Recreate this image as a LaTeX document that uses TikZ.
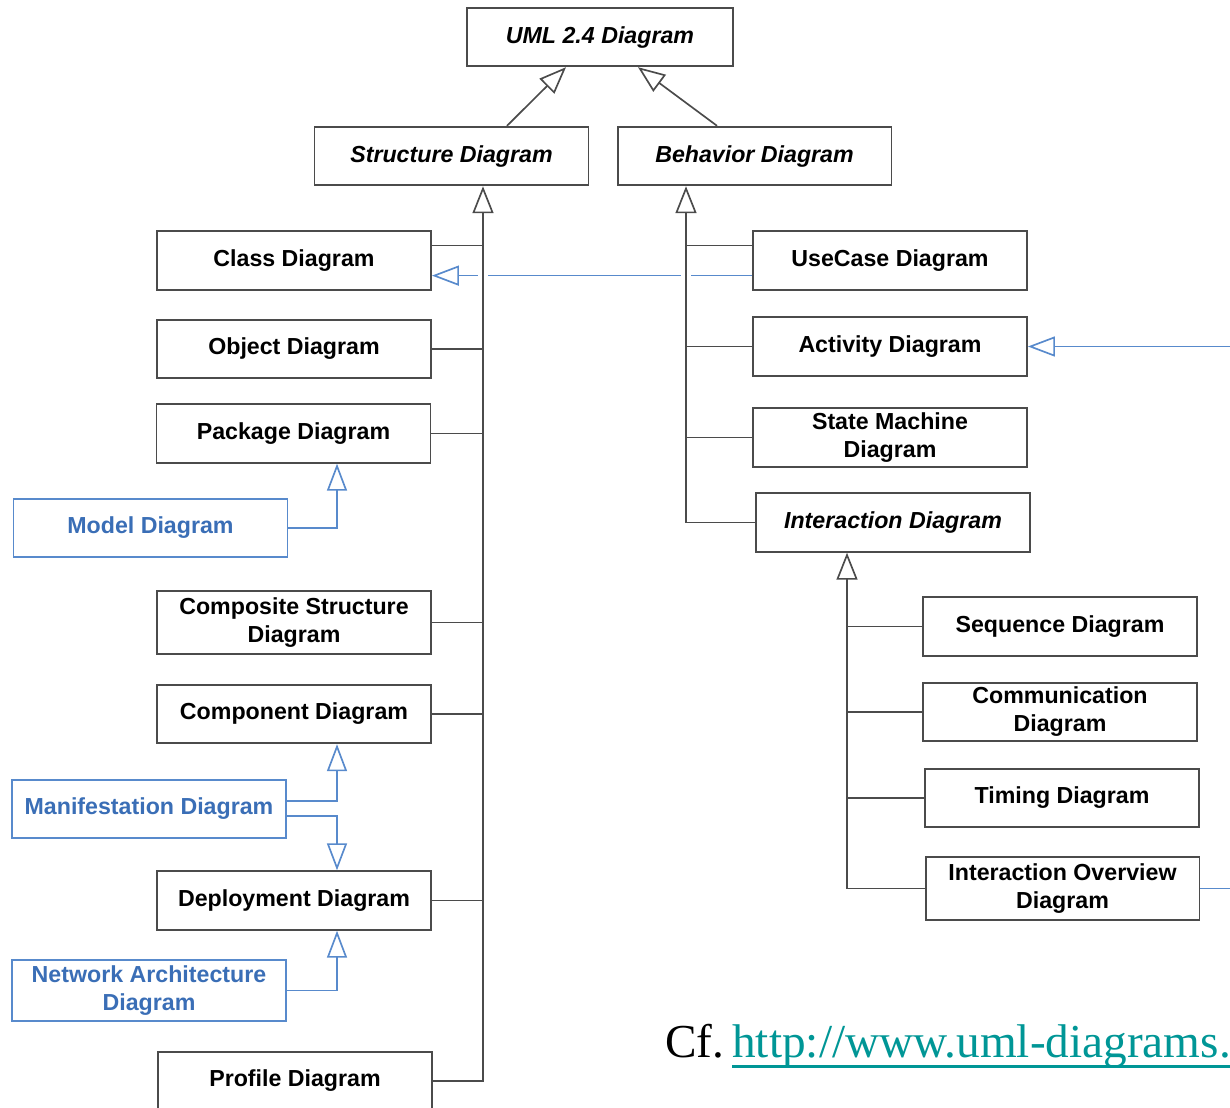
\documentclass[tikz,border=0pt]{standalone}
\usepackage{fontspec}
\setsansfont{Liberation Sans}
\newfontfamily\cffont{Liberation Serif}
\usetikzlibrary{arrows.meta,calc}
\definecolor{boxgray}{RGB}{75,75,75}
\definecolor{umlblue}{RGB}{88,138,204}
\definecolor{umltext}{RGB}{58,110,182}
\definecolor{linkteal}{RGB}{0,150,150}
\tikzset{
  box/.style={draw=boxgray,line width=1.1pt,minimum width=5.48cm,minimum height=1.17cm,
    inner sep=0pt,align=center,font=\sffamily\bfseries\fontsize{13.2}{15.9}\selectfont},
  abstract/.style={box,font=\sffamily\bfseries\itshape\fontsize{13.2}{15.9}\selectfont},
  bluebox/.style={box,draw=umlblue,text=umltext},
  tree/.style={draw=boxgray,line width=0.95pt},
  gen/.style={tree,-{Triangle[open,length=0.54cm,width=0.42cm]}},
  blueline/.style={draw=umlblue,line width=0.95pt},
  bluegen/.style={blueline,-{Triangle[open,length=0.54cm,width=0.4cm]}},
  gapped/.style={preaction={draw=white,-,line width=6pt}}
}
\begin{document}
\begin{tikzpicture}[x={(0.02cm,0)},y={(0,-0.02cm)}]
\useasboundingbox (0,0) rectangle (1230,1107);

\node[abstract,minimum width=5.32cm] (uml) at (600,37) {UML 2.4 Diagram};
\node[abstract] (struct) at (451.5,156) {Structure Diagram};
\node[abstract] (behav) at (754.5,156) {Behavior Diagram};

\node[box] (class) at (294,260.5) {Class Diagram};
\node[box] (object) at (294,349) {Object Diagram};
\node[box] (package) at (293.5,433.5) {Package Diagram};
\node[bluebox] (model) at (150.5,528) {Model Diagram};
\node[box,minimum height=1.26cm] (composite) at (294,622.5) {Composite Structure\\Diagram};
\node[box] (component) at (294,714) {Component Diagram};
\node[bluebox] (manifest) at (149,809) {Manifestation Diagram};
\node[box] (deploy) at (294,900.5) {Deployment Diagram};
\node[bluebox,minimum height=1.22cm] (network) at (149,990.5) {Network Architecture\\Diagram};
\node[box] (profile) at (295,1081) {Profile Diagram};

\node[box] (usecase) at (890,260.5) {UseCase Diagram};
\node[box] (activity) at (890,346.5) {Activity Diagram};
\node[box] (state) at (890,437.5) {State Machine\\Diagram};
\node[abstract] (interact) at (893,522.5) {Interaction Diagram};
\node[box] (sequence) at (1060,626.5) {Sequence Diagram};
\node[box] (comm) at (1060,712) {Communication\\Diagram};
\node[box] (timing) at (1062,798) {Timing Diagram};
\node[box,minimum height=1.26cm] (overview) at (1062.5,888.5) {Interaction Overview\\Diagram};

\draw[gen] ($(struct.north)+(55.5,0)$) -- ($(uml.south)+(-34,0)$);
\draw[gen] ($(behav.north)+(-37.5,0)$) -- ($(uml.south)+(38,0)$);

\coordinate (sTrunk) at (483,0);
\coordinate (bTrunk) at (686,0);
\coordinate (iTrunk) at (847,0);
\coordinate (subX) at (337,0);
\coordinate (classBr) at ($(class.north east)!.25!(class.south east)$);
\coordinate (caseBr) at ($(usecase.north west)!.25!(usecase.south west)$);
\coordinate (caseOut) at ($(usecase.north west)!.75!(usecase.south west)$);
\coordinate (actIn) at (1230,346.5);
\coordinate (ovOut) at (1230,887);

\draw[bluegen] (caseOut) -- (caseOut -| class.east);

\draw[gen,gapped] (profile.east) -| (struct.south -| sTrunk);
\draw[gen,gapped] (interact.west) -| (behav.south -| bTrunk);
\draw[gen] (overview.west) -| (interact.south -| iTrunk);

\draw[tree] (classBr) -- (classBr -| sTrunk);
\draw[tree] (object.east) -- (object.east -| sTrunk);
\draw[tree] (package.east) -- (package.east -| sTrunk);
\draw[tree] (composite.east) -- (composite.east -| sTrunk);
\draw[tree] (component.east) -- (component.east -| sTrunk);
\draw[tree] (deploy.east) -- (deploy.east -| sTrunk);

\draw[tree] (caseBr) -- (caseBr -| bTrunk);
\draw[tree] (activity.west) -- (activity.west -| bTrunk);
\draw[tree] (state.west) -- (state.west -| bTrunk);

\draw[tree] (sequence.west) -- (sequence.west -| iTrunk);
\draw[tree] (comm.west) -- (comm.west -| iTrunk);
\draw[tree] (timing.west) -- (timing.west -| iTrunk);

\draw[bluegen] (model.east) -| (package.south -| subX);
\draw[bluegen] ($(manifest.east)+(0,-8)$) -| (component.south -| subX);
\draw[bluegen] ($(manifest.east)+(0,7)$) -| (deploy.north -| subX);
\draw[bluegen] (network.east) -| (deploy.south -| subX);
\draw[bluegen] (actIn) -- (activity.east);
\draw[blueline] (overview.east) -- (overview.east -| ovOut);

\node[anchor=base west,inner sep=0pt,font=\cffont\fontsize{26.9}{30}\selectfont] (cf) at (665,1057) {Cf.};
\node[anchor=base west,inner sep=0pt,text=linkteal,font=\cffont\fontsize{26.9}{30}\selectfont] (url) at (732,1057) {http://www.uml-diagrams.};
\draw[linkteal,line width=1.7pt] ($(url.base west)+(0,9)$) -- ($(url.base east)+(0,9)$);
\end{tikzpicture}
\end{document}
